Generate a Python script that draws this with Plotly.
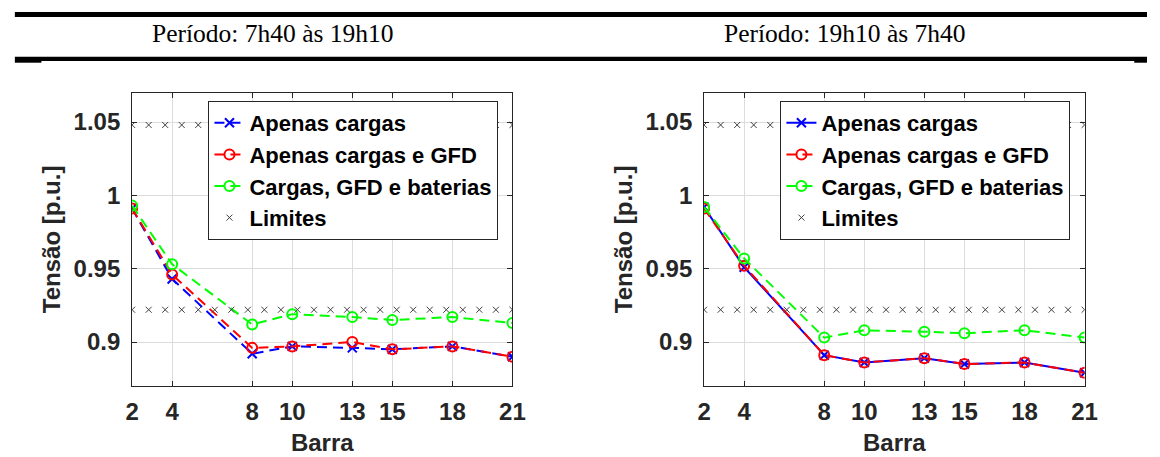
import numpy as np
import plotly.graph_objects as go

# Barras monitoradas
barras = [2, 4, 8, 10, 13, 15, 18, 21]

# Período diurno (7h40 às 19h10)
dia_cargas = [0.991, 0.943, 0.892, 0.897, 0.896, 0.895, 0.897, 0.890]
dia_gfd = [0.991, 0.946, 0.896, 0.897, 0.900, 0.895, 0.897, 0.890]
dia_bat = [0.993, 0.953, 0.912, 0.919, 0.917, 0.915, 0.917, 0.913]

# Período noturno (19h10 às 7h40)
noite_cargas = [0.992, 0.951, 0.891, 0.886, 0.889, 0.885, 0.886, 0.879]
noite_gfd = [0.991, 0.952, 0.891, 0.886, 0.889, 0.885, 0.886, 0.879]
noite_bat = [0.992, 0.957, 0.903, 0.908, 0.907, 0.906, 0.908, 0.903]

# Limites de tensão
lim_sup = 1.048
lim_inf = 0.922
n_lim = 24

y_ticks = [0.9, 0.95, 1.0, 1.05]
y_tick_text = ["0.9", "0.95", "1", "1.05"]
titulos = ["Período: 7h40 às 19h10", "Período: 19h10 às 7h40"]

W, H = 1160, 457
AX = "#262626"
FONT = "Liberation Sans"


def px_x(p):
    return p / W


def px_y(p):
    return 1 - p / H


fig = go.Figure()

lim_x = np.linspace(barras[0], barras[-1], n_lim)
lim_xx = np.concatenate([lim_x, [None], lim_x])
lim_yy = [lim_sup] * n_lim + [None] + [lim_inf] * n_lim

paineis = [
    (dia_cargas, dia_gfd, dia_bat, "10px,6px", "x", "y", "legend"),
    (noite_cargas, noite_gfd, noite_bat, "solid", "x2", "y2", "legend2"),
]


def marcador(simbolo, cor, tamanho, largura):
    return dict(symbol=simbolo, size=tamanho, color=cor, line=dict(color=cor, width=largura))


for cargas, gfd, bat, dash_azul, xa, ya, lg in paineis:
    fig.add_trace(go.Scatter(
        x=barras, y=cargas, name="Apenas cargas", mode="lines+markers",
        line=dict(color="#0000ff", width=2, dash=dash_azul),
        marker=marcador("x-thin-open", "#0000ff", 9, 2),
        xaxis=xa, yaxis=ya, legend=lg))
    fig.add_trace(go.Scatter(
        x=barras, y=gfd, name="Apenas cargas e GFD", mode="lines+markers",
        line=dict(color="#ff0000", width=2, dash="10px,6px"),
        marker=marcador("circle-open", "#ff0000", 10, 2),
        xaxis=xa, yaxis=ya, legend=lg))
    fig.add_trace(go.Scatter(
        x=barras, y=bat, name="Cargas, GFD e baterias", mode="lines+markers",
        line=dict(color="#00ff00", width=2, dash="10px,6px"),
        marker=marcador("circle-open", "#00ff00", 10, 2),
        xaxis=xa, yaxis=ya, legend=lg))
    fig.add_trace(go.Scatter(
        x=lim_xx, y=lim_yy, name="Limites", mode="markers",
        marker=marcador("x-thin-open", "#404040", 6, 1),
        xaxis=xa, yaxis=ya, legend=lg))

fonte_eixo = dict(family=FONT, size=24, color=AX, weight="bold")

eixo_x = dict(
    range=[2, 21], tickvals=barras, ticks="inside", ticklen=5, tickcolor=AX,
    showline=True, linecolor=AX, linewidth=1, mirror="ticks",
    showgrid=True, gridcolor="#dcdcdc", gridwidth=1, zeroline=False,
    tickfont=fonte_eixo, ticklabelstandoff=4,
    title=dict(text="Barra", font=fonte_eixo, standoff=10),
)
eixo_y = dict(
    range=[0.87, 1.07], tickvals=y_ticks, ticktext=y_tick_text, ticks="inside", ticklen=5,
    tickcolor=AX, showline=True, linecolor=AX, linewidth=1, mirror="ticks",
    showgrid=True, gridcolor="#dcdcdc", gridwidth=1, zeroline=False,
    tickfont=fonte_eixo, ticklabelstandoff=6,
    title=dict(text="Tensão [p.u.]", font=fonte_eixo, standoff=6),
)

y_dom = [px_y(386), px_y(92.7)]
fig.update_layout(
    xaxis=dict(eixo_x, domain=[px_x(127.3), px_x(514.3)], anchor="y"),
    yaxis=dict(eixo_y, domain=y_dom, anchor="x"),
    xaxis2=dict(eixo_x, domain=[px_x(709.3), px_x(1096.5)], anchor="y2"),
    yaxis2=dict(eixo_y, domain=y_dom, anchor="x2"),
)

leg_base = dict(
    bgcolor="white", bordercolor=AX, borderwidth=1,
    font=dict(family=FONT, size=22, color="black", weight="bold"),
    xanchor="left", yanchor="top", tracegroupgap=0, itemwidth=30,
)
fig.update_layout(
    legend=dict(leg_base, x=px_x(205), y=px_y(101)),
    legend2=dict(leg_base, x=px_x(787), y=px_y(101)),
)

# Cabeçalho em estilo de tabela
shapes = [
    dict(type="rect", xref="paper", yref="paper", x0=px_x(8), x1=1, y0=px_y(17), y1=px_y(12),
         fillcolor="black", line=dict(width=0)),
    dict(type="rect", xref="paper", yref="paper", x0=px_x(8), x1=1, y0=px_y(61), y1=px_y(56.7),
         fillcolor="black", line=dict(width=0)),
    dict(type="rect", xref="paper", yref="paper", x0=px_x(8), x1=px_x(35), y0=px_y(62.7), y1=px_y(61),
         fillcolor="black", line=dict(width=0)),
    dict(type="rect", xref="paper", yref="paper", x0=px_x(1147), x1=1, y0=px_y(62.7), y1=px_y(61),
         fillcolor="black", line=dict(width=0)),
]
fonte_titulo = dict(family="Liberation Serif", size=25.5, color="black")
annotations = [
    dict(text=titulos[0], xref="paper", yref="paper", x=px_x(271), y=px_y(33),
         xanchor="center", yanchor="middle", showarrow=False, font=fonte_titulo),
    dict(text=titulos[1], xref="paper", yref="paper", x=px_x(853), y=px_y(33),
         xanchor="center", yanchor="middle", showarrow=False, font=fonte_titulo),
]

fig.update_layout(
    width=W, height=H, margin=dict(l=0, r=0, t=0, b=0),
    paper_bgcolor="white", plot_bgcolor="white",
    shapes=shapes, annotations=annotations,
)

fig.write_html("out.html")
